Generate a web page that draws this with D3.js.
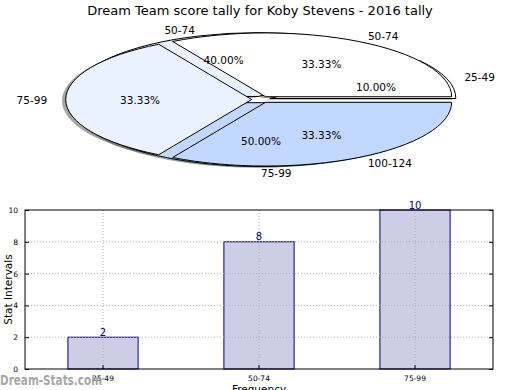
<!DOCTYPE html>
<html>
<head>
<meta charset="utf-8">
<script src="https://cdn.jsdelivr.net/npm/d3@7"></script>
<style>
  body { margin: 0; background: #fff; }
  svg { display: block; font-family: "DejaVu Sans", sans-serif; }
</style>
</head>
<body>
<svg id="chart" width="520" height="390"></svg>
<script>
// pie underneath: share of games by score band
const pieNamesA = ["25-49", "50-74", "75-99"];
const pieValuesA = [2, 8, 10];
// pie on top
const pieNamesB = ["50-74", "75-99", "100-124"];
const pieValuesB = [1, 1, 1];
const sliceColors = ["#ffffff", "#ebf2ff", "#c3d8ff"];

// bar chart
const barNames = ["25-49", "50-74", "75-99"];
const barValues = [2, 8, 10];
const yTicks = [0, 2, 4, 6, 8, 10];

const svg = d3.select("#chart");

svg.append("text")
  .attr("x", 260).attr("y", 10)
  .attr("text-anchor", "middle")
  .attr("dominant-baseline", "central")
  .attr("font-size", 13)
  .text("Dream Team score tally for Koby Stevens - 2016 tally");

// ---- pie (drawn on a unit circle, then squashed into an ellipse) ----
const cx = 261, cy = 99.5, rx = 186, ry = 63.8, explode = 0.05;

// matplotlib style: counterclockwise from 3 o'clock
const pie = d3.pie().sort(null).startAngle(Math.PI / 2).endAngle(Math.PI / 2 - 2 * Math.PI);
const arc = d3.arc().innerRadius(0).outerRadius(1);

const pies = [
  { arcs: pie(pieValuesA), names: pieNamesA },
  { arcs: pie(pieValuesB), names: pieNamesB }
];

function mid(d) { return (d.startAngle + d.endAngle) / 2; }
function off(d, k) {
  const a = mid(d);
  return [cx + k * Math.sin(a) * rx, cy - k * Math.cos(a) * ry];
}

const pieG = svg.append("g");

// shadows first, under every wedge
pies.forEach(p => {
  pieG.append("g").selectAll("path")
    .data(p.arcs)
    .enter().append("path")
    .attr("transform", d => {
      const [x, y] = off(d, explode);
      return `translate(${x - 0.02 * rx},${y + 0.02 * ry}) scale(${rx},${ry})`;
    })
    .attr("d", arc)
    .attr("fill", "#4d4d4d")
    .attr("fill-opacity", 0.5);
});

pies.forEach(p => {
  pieG.append("g").selectAll("path")
    .data(p.arcs)
    .enter().append("path")
    .attr("transform", d => {
      const [x, y] = off(d, explode);
      return `translate(${x},${y}) scale(${rx},${ry})`;
    })
    .attr("d", arc)
    .attr("fill", (d, i) => sliceColors[i])
    .attr("stroke", "#000")
    .attr("stroke-width", 1)
    .attr("vector-effect", "non-scaling-stroke");
});

const fmt = d3.format(".2f");
pies.forEach(p => {
  const total = d3.sum(p.arcs, d => d.value);
  p.arcs.forEach((d, i) => {
    const [px, py] = off(d, explode + 0.6);
    pieG.append("text")
      .attr("x", px).attr("y", py)
      .attr("text-anchor", "middle")
      .attr("dominant-baseline", "central")
      .attr("font-size", 10.5)
      .text(fmt(d.value / total * 100) + "%");
    const [lx, ly] = off(d, explode + 1.1);
    pieG.append("text")
      .attr("x", lx).attr("y", ly)
      .attr("text-anchor", Math.sin(mid(d)) > -1e-6 ? "start" : "end")
      .attr("dominant-baseline", "central")
      .attr("font-size", 10.5)
      .text(p.names[i]);
  });
});

// ---- bar chart ----
const bLeft = 25, bRight = 493, bTop = 210, bBottom = 369;
const x = d3.scaleBand().domain(barNames).range([bLeft, bRight])
  .paddingInner(0.55).paddingOuter(0.275);
const y = d3.scaleLinear().domain([0, 10]).range([bBottom, bTop]);

const grid = svg.append("g")
  .attr("stroke", "#b0b0b0")
  .attr("stroke-dasharray", "1,2");
grid.selectAll(".gy").data(yTicks.slice(1, -1)).enter().append("line")
  .attr("x1", bLeft).attr("x2", bRight)
  .attr("y1", d => y(d)).attr("y2", d => y(d));
grid.selectAll(".gx").data(barNames).enter().append("line")
  .attr("x1", d => x(d) + x.bandwidth() / 2).attr("x2", d => x(d) + x.bandwidth() / 2)
  .attr("y1", bTop).attr("y2", bBottom);

svg.append("g").selectAll("rect")
  .data(barValues)
  .enter().append("rect")
  .attr("x", (d, i) => x(barNames[i]))
  .attr("y", d => y(d))
  .attr("width", x.bandwidth())
  .attr("height", d => y(0) - y(d))
  .attr("fill", "#cdcde6")
  .attr("stroke", "#000080")
  .attr("stroke-width", 1);

// grid shows through the bars
grid.raise();

svg.append("g").selectAll("text")
  .data(barValues)
  .enter().append("text")
  .attr("x", (d, i) => x(barNames[i]) + x.bandwidth() / 2)
  .attr("y", d => y(d) - 1.5)
  .attr("text-anchor", "middle")
  .attr("font-size", 10)
  .attr("fill", "#000080")
  .text(d => d);

svg.append("rect")
  .attr("x", bLeft).attr("y", bTop)
  .attr("width", bRight - bLeft).attr("height", bBottom - bTop)
  .attr("fill", "none").attr("stroke", "#000").attr("stroke-width", 1);

const yAxisL = svg.append("g").attr("transform", `translate(${bLeft},0)`)
  .call(d3.axisLeft(y).tickValues(yTicks).tickSizeInner(-4).tickSizeOuter(0).tickPadding(7));
const yAxisR = svg.append("g").attr("transform", `translate(${bRight},0)`)
  .call(d3.axisRight(y).tickValues(yTicks).tickSizeInner(-4).tickSizeOuter(0).tickFormat(""));
const xAxis = svg.append("g").attr("transform", `translate(0,${bBottom})`)
  .call(d3.axisBottom(x).tickSizeInner(-4).tickSizeOuter(0).tickPadding(7));
[yAxisL, yAxisR, xAxis].forEach(g => {
  g.select(".domain").remove();
  g.selectAll("text").attr("font-size", 7.5).attr("font-family", "DejaVu Sans, sans-serif").attr("fill", "#000");
});

svg.append("text")
  .attr("transform", `translate(8,${(bTop + bBottom) / 2}) rotate(-90)`)
  .attr("text-anchor", "middle")
  .attr("dominant-baseline", "central")
  .attr("font-size", 10.5)
  .text("Stat Intervals");

svg.append("text")
  .attr("x", (bLeft + bRight) / 2).attr("y", 393)
  .attr("text-anchor", "middle")
  .attr("font-size", 10.5)
  .text("Frequency");

svg.append("text")
  .attr("x", 0).attr("y", 385)
  .attr("font-size", 13.5)
  .attr("font-weight", "bold")
  .attr("textLength", 102)
  .attr("lengthAdjust", "spacingAndGlyphs")
  .attr("fill", "#9a9a9a")
  .attr("fill-opacity", 0.9)
  .text("Dream-Stats.com");
</script>
</body>
</html>
